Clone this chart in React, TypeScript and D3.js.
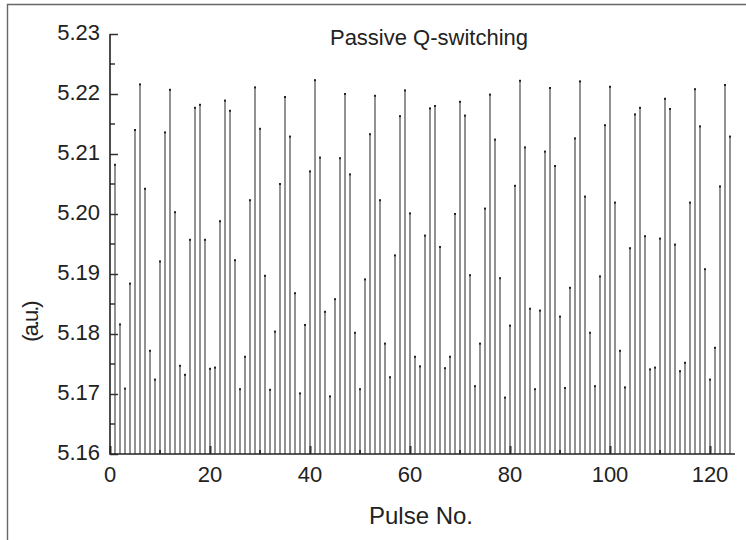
import React, { useRef, useEffect } from 'react';
import * as d3 from 'd3';

// pulse numbers 1..124, amplitude (a.u.)
const pulseValues: number[] = [
  5.2082, 5.1816, 5.1709, 5.1884, 5.2140, 5.2216, 5.2042, 5.1772, 5.1724, 5.1921,
  5.2136, 5.2207, 5.2003, 5.1747, 5.1732, 5.1957, 5.2177, 5.2182, 5.1957, 5.1742,
  5.1744, 5.1988, 5.2189, 5.2172, 5.1923, 5.1708, 5.1762, 5.2023, 5.2211, 5.2142,
  5.1897, 5.1707, 5.1804, 5.2050, 5.2195, 5.2129, 5.1868, 5.1701, 5.1815, 5.2071,
  5.2223, 5.2094, 5.1837, 5.1696, 5.1858, 5.2093, 5.2200, 5.2066, 5.1802, 5.1708,
  5.1891, 5.2133, 5.2197, 5.2023, 5.1784, 5.1728, 5.1931, 5.2163, 5.2206, 5.2001,
  5.1762, 5.1746, 5.1964, 5.2176, 5.2180, 5.1945, 5.1743, 5.1762, 5.2000, 5.2187,
  5.2164, 5.1898, 5.1713, 5.1784, 5.2009, 5.2199, 5.2124, 5.1893, 5.1694, 5.1814,
  5.2047, 5.2222, 5.2111, 5.1842, 5.1708, 5.1839, 5.2104, 5.2210, 5.2080, 5.1829,
  5.1710, 5.1877, 5.2126, 5.2221, 5.2029, 5.1802, 5.1713, 5.1896, 5.2148, 5.2212,
  5.2019, 5.1772, 5.1711, 5.1943, 5.2166, 5.2177, 5.1963, 5.1741, 5.1744, 5.1959,
  5.2192, 5.2175, 5.1949, 5.1738, 5.1752, 5.2019, 5.2208, 5.2146, 5.1908, 5.1724,
  5.1777, 5.2046, 5.2215, 5.2129,
];
const pulseNumbers: number[] = pulseValues.map((_, i) => i + 1);

const xTicks: number[] = [0, 20, 40, 60, 80, 100, 120];
const yTicks: number[] = [5.16, 5.17, 5.18, 5.19, 5.20, 5.21, 5.22, 5.23];

const width = 746;
const height = 540;
const margin = { top: 34, right: 11, bottom: 86, left: 110 };

const App: React.FC = () => {
  const svgRef = useRef<SVGSVGElement>(null);

  useEffect(() => {
    if (!svgRef.current) return;
    const svg = d3.select(svgRef.current);
    svg.selectAll('*').remove();

    const innerW = width - margin.left - margin.right;
    const innerH = height - margin.top - margin.bottom;

    const x = d3.scaleLinear().domain([0, 125]).range([0, innerW]);
    const y = d3.scaleLinear().domain([5.16, 5.23]).range([innerH, 0]);

    // outer frame (only top and left edges visible)
    svg.append('path')
      .attr('d', `M7.5,${height} L7.5,4.5 L${width},4.5`)
      .attr('fill', 'none')
      .attr('stroke', '#666')
      .attr('stroke-width', 1.4);

    const g = svg.append('g').attr('transform', `translate(${margin.left},${margin.top})`);

    // pulses
    g.selectAll('.pulse')
      .data(pulseValues)
      .enter()
      .append('line')
      .attr('class', 'pulse')
      .attr('x1', (d, i) => x(pulseNumbers[i]))
      .attr('x2', (d, i) => x(pulseNumbers[i]))
      .attr('y1', innerH)
      .attr('y2', d => y(d))
      .attr('stroke', '#4a4a4a')
      .attr('stroke-width', 1.2);

    g.selectAll('.cap')
      .data(pulseValues)
      .enter()
      .append('rect')
      .attr('class', 'cap')
      .attr('x', (d, i) => x(pulseNumbers[i]) - 1)
      .attr('y', d => y(d) - 1)
      .attr('width', 2)
      .attr('height', 2)
      .attr('fill', '#222');

    // y axis, ticks pointing inward
    const yAxis = d3.axisRight(y)
      .tickValues(yTicks)
      .tickSize(8)
      .tickFormat(() => '');
    g.append('g')
      .call(yAxis)
      .call(sel => sel.select('.domain').remove())
      .selectAll('line')
      .attr('stroke', '#333')
      .attr('stroke-width', 1.5);

    const yMinor = d3.range(5.165, 5.23, 0.01);
    g.selectAll('.yminor')
      .data(yMinor)
      .enter()
      .append('line')
      .attr('x1', 0)
      .attr('x2', 5)
      .attr('y1', d => y(d))
      .attr('y2', d => y(d))
      .attr('stroke', '#333')
      .attr('stroke-width', 1.5);

    g.selectAll('.ylabel')
      .data(yTicks)
      .enter()
      .append('text')
      .attr('x', -10)
      .attr('y', d => y(d) + 6)
      .attr('text-anchor', 'end')
      .style('font-family', 'Arial, "Liberation Sans", sans-serif')
      .style('font-size', '22px')
      .style('fill', '#222')
      .text(d => d.toFixed(2));

    // x axis, ticks pointing inward
    const xAxis = d3.axisTop(x)
      .tickValues(xTicks)
      .tickSize(8)
      .tickFormat(() => '');
    g.append('g')
      .attr('transform', `translate(0,${innerH})`)
      .call(xAxis)
      .call(sel => sel.select('.domain').remove())
      .selectAll('line')
      .attr('stroke', '#333')
      .attr('stroke-width', 2);

    const xMinor = d3.range(10, 125, 20);
    g.selectAll('.xminor')
      .data(xMinor)
      .enter()
      .append('line')
      .attr('x1', d => x(d))
      .attr('x2', d => x(d))
      .attr('y1', innerH)
      .attr('y2', innerH - 4)
      .attr('stroke', '#333')
      .attr('stroke-width', 2);

    g.selectAll('.xlabel')
      .data(xTicks)
      .enter()
      .append('text')
      .attr('x', d => x(d))
      .attr('y', innerH + 28)
      .attr('text-anchor', 'middle')
      .style('font-family', 'Arial, "Liberation Sans", sans-serif')
      .style('font-size', '22px')
      .style('fill', '#222')
      .text(d => String(d));

    // axis lines
    g.append('path')
      .attr('d', `M0,0 L0,${innerH} L${innerW},${innerH}`)
      .attr('fill', 'none')
      .attr('stroke', '#222')
      .attr('stroke-width', 1.6);

    // title
    g.append('text')
      .attr('x', 319)
      .attr('y', 45 - margin.top)
      .attr('text-anchor', 'middle')
      .style('font-family', 'Arial, "Liberation Sans", sans-serif')
      .style('font-size', '22px')
      .style('fill', '#222')
      .text('Passive Q-switching');

    // axis titles
    svg.append('text')
      .attr('x', 421)
      .attr('y', 524)
      .attr('text-anchor', 'middle')
      .style('font-family', 'Arial, "Liberation Sans", sans-serif')
      .style('font-size', '24px')
      .style('fill', '#222')
      .text('Pulse No.');

    svg.append('text')
      .attr('transform', 'translate(38,322) rotate(-90)')
      .attr('text-anchor', 'middle')
      .style('font-family', 'Arial, "Liberation Sans", sans-serif')
      .style('font-size', '22px')
      .style('letter-spacing', '-2px')
      .style('fill', '#222')
      .text('(a.u.)');
  }, []);

  return (
    <svg
      ref={svgRef}
      width={width}
      height={height}
      style={{ position: 'absolute', left: 0, top: 0, background: '#fff' }}
    />
  );
};

export default App;
